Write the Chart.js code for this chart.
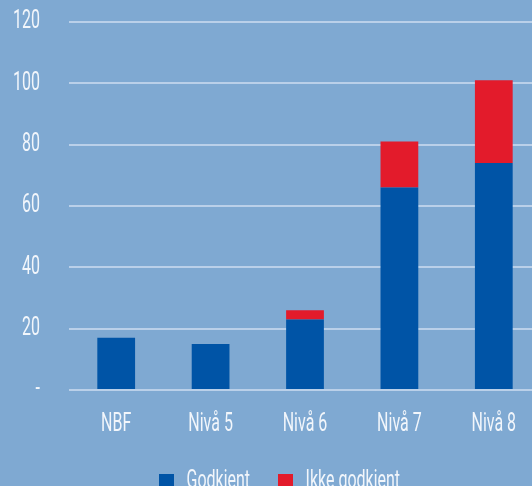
<!DOCTYPE html>
<html><head><meta charset="utf-8">
<script src="https://cdn.jsdelivr.net/npm/chart.js@4"></script>
<style>
html,body{margin:0;padding:0;background:#7FA9D2;overflow:hidden;width:532px;height:486px;}
#wrap{position:absolute;left:0;top:-22px;width:541px;height:526px;}
</style></head><body>
<div id="wrap"><canvas id="c"></canvas></div>
<script>
const categories = ["NBF", "Nivå 5", "Nivå 6", "Nivå 7", "Nivå 8"];
const godkjent = [17, 15, 23, 66, 74];
const ikkeGodkjent = [0, 0, 3, 15, 27];
const yTicks = [0, 20, 40, 60, 80, 100, 120];
const seriesNames = ["Godkjent", "Ikke godkjent"];

// condensed text rendering: narrow the installed font horizontally
const canvas = document.getElementById('c');
const ctx = canvas.getContext('2d');
const SX = 0.64;
const origMeasure = ctx.measureText.bind(ctx);
const origFill = ctx.fillText.bind(ctx);
ctx.measureText = function(t) {
  const m = origMeasure(t);
  return {width: m.width * SX, actualBoundingBoxAscent: m.actualBoundingBoxAscent, actualBoundingBoxDescent: m.actualBoundingBoxDescent,
          actualBoundingBoxLeft: m.actualBoundingBoxLeft * SX, actualBoundingBoxRight: m.actualBoundingBoxRight * SX,
          fontBoundingBoxAscent: m.fontBoundingBoxAscent, fontBoundingBoxDescent: m.fontBoundingBoxDescent};
};
ctx.fillText = function(t, x, y, mw) {
  ctx.save();
  ctx.translate(x, y);
  ctx.scale(SX, 1);
  origFill(t, 0, 0);
  ctx.restore();
};

const shiftLegend = {
  id: 'shiftLegend',
  afterLayout(chart) { if (chart.legend) { chart.legend.left += 9; chart.legend.right += 9; } }
};

const FONT = "Roboto, 'DejaVu Sans', sans-serif";
new Chart(ctx, {
  type: 'bar',
  data: {
    labels: categories,
    datasets: [
      {label: seriesNames[0], data: godkjent, backgroundColor: '#0054A6', borderWidth: 0, barPercentage: 0.4, categoryPercentage: 1.0},
      {label: seriesNames[1], data: ikkeGodkjent, backgroundColor: '#E31B2B', borderWidth: 0, barPercentage: 0.4, categoryPercentage: 1.0}
    ]
  },
  plugins: [shiftLegend],
  options: {
    responsive: true, maintainAspectRatio: false, animation: false,
    layout: {padding: {top: 10, left: 0, right: 0, bottom: 0}},
    plugins: {
      legend: {position: 'bottom', labels: {color: '#F2F6FB', font: {family: FONT, size: 25, weight: 400}, boxWidth: 15, boxHeight: 15, padding: 28}},
      tooltip: {enabled: false}
    },
    scales: {
      x: {stacked: true,
          afterFit: (s) => { s.height -= 11; },
          grid: {display: false}, border: {display: false},
          ticks: {color: '#F2F6FB', font: {family: FONT, size: 25, weight: 400}, padding: 12, maxRotation: 0}},
      y: {stacked: true, min: 0, max: 120, afterBuildTicks: (a) => { a.ticks = yTicks.map(v => ({value: v})); },
          afterFit: (s) => { s.width = 69; },
          grid: {color: 'rgba(205,222,240,0.75)', lineWidth: 2, drawTicks: false}, border: {display: false},
          ticks: {color: '#F2F6FB', font: {family: FONT, size: 25, weight: 400}, padding: 29,
                  callback: (v) => v === 0 ? '-' : v}}
    }
  }
});
</script></body></html>
